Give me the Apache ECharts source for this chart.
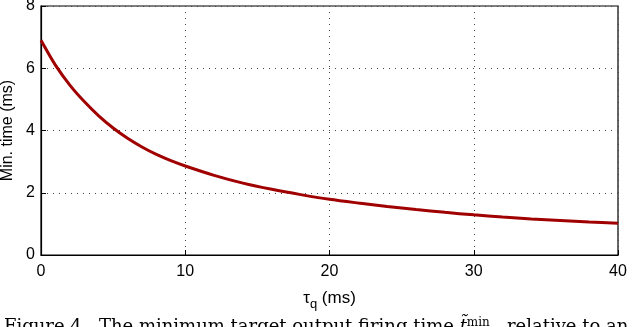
<!DOCTYPE html>
<html>
<head>
<meta charset="utf-8">
<script src="https://cdn.jsdelivr.net/npm/echarts@6/dist/echarts.min.js"></script>
<style>
  html, body { margin: 0; padding: 0; background: #fff; }
  #chart { width: 640px; height: 327px; }
</style>
</head>
<body>
<div id="chart"></div>
<script>
// tau_q (ms) and minimum time (ms)
const tauQ = [0, 1, 2, 3, 4, 5, 6, 7, 8, 9, 10, 12, 14, 16, 18, 20, 22, 24, 26, 28, 30, 32, 34, 36, 38, 40];
const minTime = [6.90, 6.10, 5.46, 4.93, 4.47, 4.08, 3.75, 3.47, 3.23, 3.03, 2.86, 2.56, 2.31, 2.11, 1.94, 1.79, 1.67, 1.56, 1.46, 1.37, 1.29, 1.22, 1.16, 1.11, 1.06, 1.02];
const xTicks = [0, 10, 20, 30, 40];
const yTicks = [0, 2, 4, 6, 8];

const chart = echarts.init(document.getElementById('chart'));

const axisFont = { fontFamily: 'Liberation Sans', fontSize: 16, color: '#000' };
const dotted = { color: '#444', type: [1, 5], width: 1 };

chart.setOption({
  animation: false,
  backgroundColor: '#fff',
  grid: {
    left: 41, right: 22, top: 6, bottom: 72,
    outerBoundsMode: 'none',
    show: true, borderColor: '#000', borderWidth: 1.2
  },
  xAxis: {
    type: 'value',
    min: xTicks[0], max: xTicks[xTicks.length - 1], interval: 10,
    axisLine: { show: true, lineStyle: { color: '#000', width: 1.2 } },
    axisTick: { show: true, inside: true, length: 5, lineStyle: { color: '#000' } },
    axisLabel: { ...axisFont, margin: 9 },
    splitLine: { show: true, lineStyle: dotted },
    name: '{t|τ}{q|q}{t| (ms)}',
    nameLocation: 'middle',
    nameGap: 31,
    nameTextStyle: {
      rich: {
        t: { fontFamily: 'Liberation Sans', fontSize: 17, color: '#000' },
        q: { fontFamily: 'Liberation Sans', fontSize: 13, color: '#000', padding: [12, 0, 0, 0] }
      }
    }
  },
  yAxis: {
    type: 'value',
    min: yTicks[0], max: yTicks[yTicks.length - 1], interval: 2,
    axisLine: { show: true, lineStyle: { color: '#000', width: 1.2 } },
    axisTick: { show: true, inside: true, length: 5, lineStyle: { color: '#000' } },
    axisLabel: { ...axisFont, margin: 6 },
    splitLine: { show: true, lineStyle: dotted },
    name: 'Min. time (ms)',
    nameLocation: 'middle',
    nameGap: 24,
    nameTextStyle: { fontFamily: 'Liberation Sans', fontSize: 16, color: '#000' }
  },
  series: [{
    type: 'line',
    data: tauQ.map((t, i) => [t, minTime[i]]),
    smooth: 0.3,
    showSymbol: false,
    lineStyle: { color: '#a00000', width: 3 },
    z: 5
  }],
  graphic: [{
    type: 'text',
    left: 4,
    top: 317,
    style: {
      text: '{r|Figure 4.  The minimum target output firing time }{i|t̃}{s|min}{r|,  relative to an}',
      rich: {
        r: { fontFamily: 'DejaVu Serif', fontSize: 18, fill: '#000' },
        i: { fontFamily: 'DejaVu Serif', fontStyle: 'italic', fontSize: 18, fill: '#000' },
        s: { fontFamily: 'DejaVu Serif', fontSize: 12, fill: '#000', padding: [0, 0, 8, 0] }
      }
    }
  }]
});
</script>
</body>
</html>
